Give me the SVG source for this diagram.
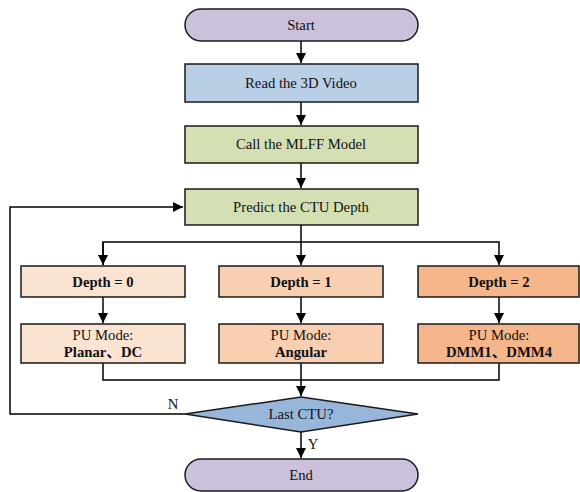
<svg xmlns="http://www.w3.org/2000/svg" width="580" height="492" viewBox="0 0 580 492">
<defs>
<marker id="ah" markerWidth="10" markerHeight="10" refX="10" refY="5" orient="auto" markerUnits="userSpaceOnUse">
<path d="M0,0 L10,5 L0,10 Z" fill="#000"/>
</marker>
<style>
.n{stroke:#1a1a1a;stroke-width:1.5}
.t{font-family:"Liberation Serif","Times New Roman","Noto Sans CJK SC",serif;font-size:14.7px;fill:#111;text-anchor:middle}
.b{font-weight:bold}
.c{fill:none;stroke:#000;stroke-width:1.5}
</style>
</defs>
<rect width="580" height="492" fill="#fff"/>
<g id="connectors">
<path class="c" d="M301,41 V63" marker-end="url(#ah)"/>
<path class="c" d="M301,102 V125" marker-end="url(#ah)"/>
<path class="c" d="M301,163 V188" marker-end="url(#ah)"/>
<path class="c" d="M301,225 V265" marker-end="url(#ah)"/>
<path class="c" d="M103,265 V242 H499 V265" marker-end="url(#ah)"/>
<path class="c" d="M103,242 V265" marker-end="url(#ah)"/>
<path class="c" d="M103,297 V323" marker-end="url(#ah)"/>
<path class="c" d="M301,297 V323" marker-end="url(#ah)"/>
<path class="c" d="M499,297 V323" marker-end="url(#ah)"/>
<path class="c" d="M103,363 V380 H499 V363"/>
<path class="c" d="M301,363 V396" marker-end="url(#ah)"/>
<path class="c" d="M185,414 H10 V207 H183" marker-end="url(#ah)"/>
<path class="c" d="M301,432 V458" marker-end="url(#ah)"/>
<text class="t" x="173" y="409">N</text>
<text class="t" x="313" y="449">Y</text>
</g>
<g id="start">
<rect class="n" x="185" y="9" width="233" height="32" rx="16" fill="#ccc1da"/>
<text class="t" x="301" y="30">Start</text>
</g>
<g id="read">
<rect class="n" x="185" y="64" width="233" height="38" fill="#b9cfe6"/>
<text class="t" x="301" y="88">Read the 3D Video</text>
</g>
<g id="call">
<rect class="n" x="185" y="126" width="233" height="37" fill="#d4dfb4"/>
<text class="t" x="301" y="149">Call the MLFF Model</text>
</g>
<g id="predict">
<rect class="n" x="185" y="189" width="233" height="36" fill="#d4dfb4"/>
<text class="t" x="301" y="212">Predict the CTU Depth</text>
</g>
<g id="depth0">
<rect class="n" x="21" y="266" width="164" height="31" fill="#fbe3d2"/>
<text class="t b" x="103" y="287">Depth = 0</text>
</g>
<g id="depth1">
<rect class="n" x="219" y="266" width="164" height="31" fill="#f8cfb1"/>
<text class="t b" x="301" y="287">Depth = 1</text>
</g>
<g id="depth2">
<rect class="n" x="418" y="266" width="161" height="31" fill="#f4b68a"/>
<text class="t b" x="499" y="287">Depth = 2</text>
</g>
<g id="pu0">
<rect class="n" x="21" y="324" width="164" height="39" fill="#fbe3d2"/>
<text class="t" x="103" y="340">PU Mode:</text>
<text class="t b" x="103" y="357">Planar、DC</text>
</g>
<g id="pu1">
<rect class="n" x="219" y="324" width="164" height="39" fill="#f8cfb1"/>
<text class="t" x="301" y="340">PU Mode:</text>
<text class="t b" x="301" y="357">Angular</text>
</g>
<g id="pu2">
<rect class="n" x="418" y="324" width="161" height="39" fill="#f4b68a"/>
<text class="t" x="499" y="340">PU Mode:</text>
<text class="t b" x="499" y="357">DMM1、DMM4</text>
</g>
<g id="last">
<polygon class="n" points="301,397 418,414 301,432 185,414" fill="#98b6d9"/>
<text class="t" x="301" y="419">Last CTU?</text>
</g>
<g id="end">
<rect class="n" x="185" y="459" width="233" height="32" rx="16" fill="#ccc1da"/>
<text class="t" x="301" y="480">End</text>
</g>
</svg>
